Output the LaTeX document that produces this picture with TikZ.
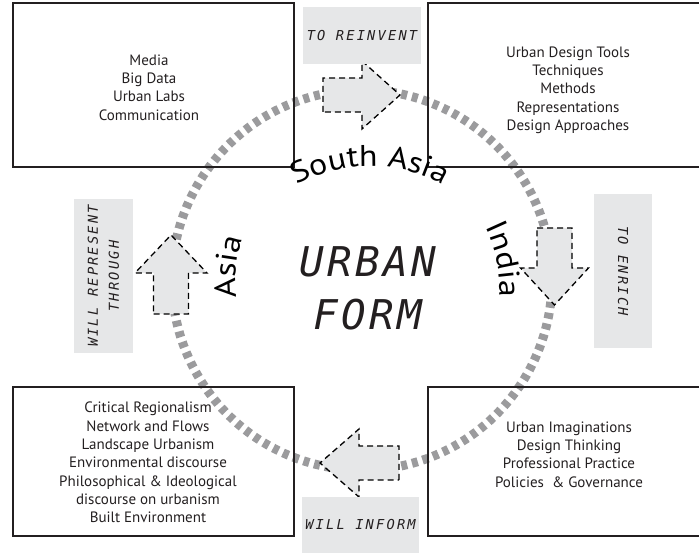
\documentclass[tikz,border=0pt]{standalone}
\usepackage{fontspec}
\setmainfont{PT Sans}
\newfontfamily\lblmono{DejaVu Sans Mono}[LetterSpace=16]
\newfontfamily\urbmono{DejaVu Sans Mono}[LetterSpace=8]
\newfontfamily\arcsans{PT Sans}[FakeStretch=1.13]
\usetikzlibrary{decorations.text}
\definecolor{ink}{RGB}{35,31,32}
\definecolor{labelgray}{RGB}{230,231,232}
\definecolor{ringgray}{RGB}{155,155,157}
\tikzset{
  box/.style={draw=ink, line width=1.4pt, inner sep=0pt},
  boxtext/.style={align=center, font=\fontsize{15}{18.3}\selectfont, text=ink, inner sep=0pt},
  labelbox/.style={fill=labelgray, draw=none, inner sep=0pt, align=center, text=ink,
    font=\lblmono\itshape\fontsize{13.7}{21}\selectfont},
  blockarrow/.style={draw=black, fill=labelgray, line width=1.3pt, dash pattern=on 6pt off 4pt, line join=miter},
  ring/.style={draw=ringgray, line width=9pt, dash pattern=on 6pt off 5pt},
  arctext/.style={decorate, decoration={text along path, text align=center,
    text={|\arcsans\fontsize{30}{30}\selectfont|#1}}},
}
\begin{document}
\begin{tikzpicture}[x=1pt, y=1pt]
\useasboundingbox (0,0) rectangle (699,553);
% ring
\draw[ring] (362,273) circle[radius=190pt];
% block arrows
\draw[blockarrow] (323,441) -- (323,475) -- (362,475) -- (362,492) -- (400,458) -- (362,424) -- (362,441) -- cycle;
\draw[blockarrow] (537,325) -- (572,325) -- (572,285) -- (588.5,285) -- (554.5,248) -- (520.5,285) -- (537,285) -- cycle;
\draw[blockarrow] (153.5,239) -- (188.5,239) -- (188.5,280) -- (207,280) -- (171,318) -- (135,280) -- (153.5,280) -- cycle;
\draw[blockarrow] (399,73) -- (399,107) -- (359,107) -- (359,124) -- (320,90) -- (359,56) -- (359,73) -- cycle;
% boxes
\node[box, minimum width=281pt, minimum height=164pt] (tl) at (153.5,468) {};
\node[box, minimum width=274pt, minimum height=164pt] (tr) at (565,468) {};
\node[box, minimum width=281pt, minimum height=149pt] (bl) at (153.5,91.5) {};
\node[box, minimum width=274pt, minimum height=149pt] (br) at (565,91.5) {};
\node[boxtext] (tltext) at (149,465.5) {Media\\Big Data\\Urban Labs\\Communication};
\node[boxtext] (trtext) at (568,463) {Urban Design Tools\\Techniques\\Methods\\Representations\\Design Approaches};
\node[boxtext] (bltext) at (148,90.5) {Critical Regionalism\\Network and Flows\\Landscape Urbanism\\Environmental discourse\\Philosophical \& Ideological\\discourse on urbanism\\Built Environment};
\node[boxtext] (brtext) at (569,98.5) {Urban Imaginations\\Design Thinking\\Professional Practice\\Policies~ \& Governance};
% grey labels
\node[labelbox, minimum width=118pt, minimum height=57pt] (reinvent) at (362,517.5) {TO REINVENT};
\node[labelbox, minimum width=154pt, minimum height=58pt, rotate=-90] (enrich) at (623,282) {TO ENRICH};
\node[labelbox, minimum width=154pt, minimum height=59pt, rotate=90] (represent) at (103.5,277) {WILL REPRESENT\\THROUGH};
\node[labelbox, minimum width=117pt, minimum height=56pt] (inform) at (360.5,28) {WILL INFORM};
% centre
\node[font=\urbmono\itshape\fontsize{41}{53}\selectfont, align=center, text=ink, inner sep=0pt] (urban) at (368,264.5) {URBAN\\FORM};
% arc texts
\path[arctext={South Asia}] (370,237) ++(130:150pt) arc[start angle=130, end angle=50, radius=150pt];
\path[arctext={India}] (355,262) ++(57:145pt) arc[start angle=57, end angle=-33, radius=145pt];
\path[arctext={Asia}] (380,273) ++(220:144pt) arc[start angle=220, end angle=130, radius=144pt];
\end{tikzpicture}
\end{document}
